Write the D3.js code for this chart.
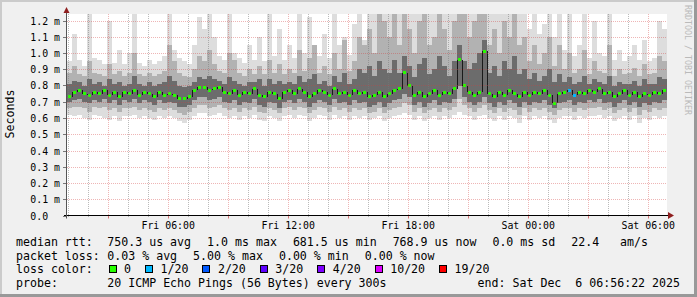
<!DOCTYPE html>
<html lang="en">
<head>
<meta charset="UTF-8">
<title>SmokePing last 30 hours</title>
<script src="https://cdn.jsdelivr.net/npm/d3@7/dist/d3.min.js"></script>
<style>
  body { margin: 0; background: #f0f0f0; }
  text { font-family: "DejaVu Sans Mono", monospace; fill: #000; white-space: pre; }
</style>
</head>
<body>
<script>
// time base: 15 minute steps, 120 of them (30 hours)
var tStart = Date.UTC(2025, 11, 5, 0, 56, 22);
var tEnd = Date.UTC(2025, 11, 6, 6, 56, 22);
var stepMs = 15 * 60 * 1000;

// values in ms
var median = [0.73,0.76,0.77,0.75,0.74,0.76,0.75,0.77,0.74,0.76,0.73,0.76,0.75,0.77,0.74,0.76,0.75,0.73,0.76,0.74,
  0.75,0.74,0.72,0.72,0.73,0.77,0.79,0.79,0.77,0.78,0.79,0.76,0.75,0.77,0.74,0.76,0.75,0.78,0.74,0.73,
  0.76,0.75,0.72,0.76,0.77,0.75,0.78,0.76,0.73,0.75,0.77,0.76,0.74,0.78,0.75,0.76,0.74,0.77,0.75,0.76,
  0.73,0.74,0.76,0.73,0.75,0.77,0.78,0.88,0.80,0.74,0.76,0.73,0.75,0.77,0.74,0.76,0.75,0.78,0.96,0.80,
  0.76,0.74,0.76,1.01,0.75,0.73,0.76,0.74,0.77,0.75,0.73,0.76,0.74,0.76,0.75,0.77,0.74,0.69,0.75,0.76,
  0.77,0.74,0.76,0.75,0.77,0.76,0.78,0.75,0.76,0.73,0.75,0.77,0.74,0.76,0.73,0.75,0.74,0.76,0.75,0.77];
var lossCount = [0,0,0,0,0,0,0,0,0,0,0,0,0,0,0,0,0,0,0,0,
  0,0,0,0,0,0,0,0,0,0,0,0,0,0,0,0,0,0,0,0,
  0,0,0,0,0,0,0,0,0,0,0,0,0,0,0,0,0,0,0,0,
  0,0,0,0,0,0,0,0,0,0,0,0,0,0,0,0,0,0,0,0,
  0,0,0,0,0,0,0,0,0,0,0,0,0,0,0,0,0,0,0,0,
  1,1,0,0,0,0,0,0,0,0,0,0,0,0,0,0,0,0,0,0];
var pingMax = [0.95,1.12,0.96,0.92,1.25,0.97,0.96,0.93,1.20,0.94,1.02,0.93,1.00,1.25,0.94,0.92,0.96,0.93,0.95,0.98,
  1.25,1.02,0.97,0.95,0.93,1.05,1.22,1.15,1.25,1.10,0.98,0.96,1.25,1.00,0.97,0.94,1.05,0.96,1.10,0.95,
  1.25,0.98,1.15,0.96,1.05,0.97,1.25,1.00,1.22,1.03,0.98,1.12,0.97,1.25,1.05,1.10,0.99,1.18,1.25,1.08,
  1.25,1.25,1.25,1.25,1.25,1.25,1.25,1.25,1.25,1.25,1.25,1.25,1.25,1.25,1.25,1.25,1.25,1.25,1.25,1.25,
  1.25,1.25,1.25,1.25,1.25,1.25,1.25,1.25,1.25,1.25,1.25,1.25,1.15,1.25,1.12,1.18,1.25,1.10,1.25,1.02,
  1.25,0.98,1.05,1.25,0.97,1.20,1.00,0.98,1.25,0.96,1.02,0.95,0.98,1.05,0.96,1.08,0.95,0.97,1.20,1.15];
var pingP90 = [0.88,0.92,0.87,0.86,0.95,0.88,0.87,0.86,0.93,0.87,0.89,0.86,0.88,1.00,0.87,0.86,0.88,0.86,0.87,0.89,
  1.05,0.95,0.88,0.86,0.85,0.90,0.98,0.95,1.02,0.93,0.89,0.88,1.00,0.96,0.88,0.86,0.90,0.87,0.92,0.87,
  0.96,0.88,0.93,0.87,0.90,0.88,1.02,0.89,0.97,1.05,0.88,0.92,0.87,1.00,0.90,1.08,0.89,0.95,1.10,1.05,
  1.15,1.00,1.25,1.20,1.10,1.25,1.05,1.25,1.15,1.00,1.20,1.25,1.05,1.10,1.25,1.15,1.02,1.20,1.25,1.25,
  1.10,1.20,1.25,1.25,1.05,1.15,1.00,1.20,1.10,1.25,1.05,1.10,0.95,1.05,0.93,1.00,1.10,0.92,1.05,0.90,
  1.00,0.88,0.90,1.02,0.87,0.95,0.89,0.88,1.05,0.86,0.90,0.87,0.88,0.91,0.86,0.93,0.87,0.88,0.98,0.95];
var pingP75 = [0.81,0.83,0.82,0.80,0.84,0.81,0.82,0.80,0.84,0.81,0.82,0.80,0.81,0.86,0.81,0.80,0.82,0.80,0.81,0.82,
  0.86,0.83,0.80,0.79,0.80,0.82,0.85,0.84,0.86,0.84,0.83,0.81,0.85,0.83,0.81,0.80,0.82,0.82,0.84,0.80,
  0.84,0.81,0.83,0.81,0.82,0.81,0.86,0.82,0.84,0.87,0.81,0.83,0.80,0.86,0.82,0.88,0.81,0.84,0.90,0.88,
  0.92,0.86,0.95,0.90,0.88,0.96,0.88,0.98,0.92,0.85,0.93,0.97,0.87,0.90,0.98,0.92,0.86,0.95,1.05,0.95,
  0.90,0.94,1.00,1.08,0.88,0.92,0.86,0.95,0.90,0.98,0.87,0.90,0.84,0.88,0.83,0.86,0.90,0.82,0.87,0.82,
  0.85,0.81,0.82,0.86,0.81,0.84,0.82,0.81,0.86,0.80,0.82,0.81,0.81,0.83,0.80,0.84,0.81,0.81,0.85,0.84];
var pingP25 = [0.70,0.71,0.72,0.70,0.69,0.71,0.70,0.72,0.69,0.71,0.68,0.71,0.70,0.72,0.69,0.71,0.70,0.68,0.71,0.69,
  0.70,0.69,0.67,0.67,0.68,0.71,0.73,0.73,0.71,0.72,0.73,0.70,0.69,0.71,0.68,0.70,0.69,0.72,0.68,0.67,
  0.70,0.69,0.66,0.70,0.71,0.69,0.72,0.70,0.67,0.69,0.71,0.70,0.68,0.72,0.69,0.70,0.68,0.71,0.69,0.70,
  0.67,0.68,0.70,0.67,0.69,0.71,0.72,0.75,0.73,0.68,0.70,0.67,0.69,0.71,0.68,0.70,0.69,0.72,0.80,0.73,
  0.70,0.68,0.70,0.73,0.69,0.67,0.70,0.68,0.71,0.69,0.67,0.70,0.68,0.70,0.69,0.71,0.68,0.66,0.69,0.70,
  0.71,0.68,0.70,0.69,0.71,0.70,0.72,0.69,0.70,0.67,0.69,0.71,0.68,0.70,0.67,0.69,0.68,0.70,0.69,0.71];
var pingP10 = [0.66,0.67,0.67,0.66,0.64,0.67,0.66,0.67,0.65,0.66,0.64,0.66,0.66,0.67,0.65,0.66,0.65,0.64,0.66,0.65,
  0.66,0.65,0.63,0.62,0.64,0.66,0.68,0.68,0.66,0.67,0.68,0.66,0.65,0.66,0.64,0.66,0.65,0.67,0.64,0.63,
  0.66,0.65,0.63,0.66,0.67,0.65,0.67,0.66,0.63,0.65,0.67,0.66,0.64,0.67,0.65,0.66,0.64,0.66,0.65,0.66,
  0.63,0.64,0.66,0.63,0.65,0.66,0.67,0.69,0.68,0.64,0.66,0.63,0.65,0.66,0.64,0.66,0.65,0.67,0.72,0.68,
  0.66,0.64,0.66,0.68,0.65,0.63,0.66,0.64,0.66,0.65,0.62,0.66,0.64,0.66,0.65,0.66,0.64,0.62,0.65,0.66,
  0.66,0.64,0.66,0.65,0.66,0.66,0.67,0.65,0.66,0.63,0.65,0.66,0.64,0.66,0.62,0.65,0.64,0.66,0.65,0.66];
var pingMin = [0.62,0.61,0.62,0.60,0.59,0.62,0.61,0.60,0.59,0.61,0.58,0.61,0.61,0.62,0.60,0.61,0.60,0.59,0.61,0.60,
  0.61,0.60,0.58,0.57,0.59,0.61,0.63,0.63,0.61,0.62,0.63,0.61,0.60,0.61,0.59,0.61,0.60,0.62,0.59,0.58,
  0.61,0.60,0.58,0.61,0.62,0.60,0.62,0.61,0.58,0.60,0.62,0.61,0.59,0.62,0.60,0.61,0.59,0.61,0.60,0.61,
  0.59,0.60,0.61,0.58,0.60,0.61,0.62,0.63,0.62,0.59,0.61,0.58,0.60,0.61,0.59,0.61,0.60,0.62,0.64,0.62,
  0.61,0.59,0.61,0.62,0.60,0.58,0.61,0.59,0.61,0.60,0.57,0.61,0.59,0.61,0.60,0.61,0.59,0.57,0.60,0.61,
  0.61,0.59,0.61,0.60,0.61,0.61,0.62,0.60,0.61,0.58,0.60,0.61,0.59,0.61,0.57,0.60,0.59,0.61,0.60,0.61];

var lossLevels = [0, 1, 2, 3, 4, 10, 19];
var lossLabels = ['0', '1/20', '2/20', '3/20', '4/20', '10/20', '19/20'];
var lossColors = ['#26ff00', '#00b8ff', '#0059ff', '#5e00ff', '#7e00ff', '#dd00ff', '#ff0000'];

var rttStats = ['750.3 us avg', '1.0 ms max', '681.5 us min', '768.9 us now', '0.0 ms sd', '22.4   am/s'];
var lossStats = ['0.03 % avg', '5.00 % max', '0.00 % min', '0.00 % now'];
var probeText = '20 ICMP Echo Pings (56 Bytes) every 300s';
var endText = 'end: Sat Dec  6 06:56:22 2025';

var W = 697, H = 297;
var plotL = 67, plotR = 667, plotT = 14, plotB = 215.5;

var svg = d3.select('body').append('svg').attr('width', W).attr('height', H);
svg.append('rect').attr('width', W).attr('height', H).attr('fill', '#f0f0f0');
// frame shading
svg.append('rect').attr('x', 0).attr('y', 0).attr('width', W).attr('height', 2).attr('fill', '#cbcbcb');
svg.append('rect').attr('x', 0).attr('y', 0).attr('width', 2).attr('height', H).attr('fill', '#cbcbcb');
svg.append('rect').attr('x', W - 3).attr('y', 0).attr('width', 3).attr('height', H).attr('fill', '#999');
svg.append('rect').attr('x', 0).attr('y', H - 3).attr('width', W).attr('height', 3).attr('fill', '#999');

svg.append('rect').attr('x', plotL).attr('y', plotT).attr('width', plotR - plotL).attr('height', plotB - plotT)
  .attr('fill', '#fff');

var x = d3.scaleUtc().domain([tStart, tEnd]).range([plotL, plotR]);
var y = d3.scaleLinear().domain([0, 1.24]).range([plotB, plotT]);

svg.append('clipPath').attr('id', 'plot').append('rect')
  .attr('x', plotL).attr('y', plotT).attr('width', plotR - plotL).attr('height', plotB - plotT);

var g = svg.append('g').attr('clip-path', 'url(#plot)').attr('shape-rendering', 'crispEdges');
var idx = d3.range(median.length);
function x0(i) { return x(tStart + i * stepMs); }
function x1(i) { return x(tStart + (i + 1) * stepMs); }

var layers = [
  {lo: pingMin, hi: pingMax, color: '#dddddd'},
  {lo: pingP10, hi: pingP90, color: '#b2b2b2'},
  {lo: pingP25, hi: pingP75, color: '#6c6c6c'}
];
layers.forEach(function(L) {
  g.append('g').selectAll('rect').data(idx).join('rect')
    .attr('x', i => x0(i)).attr('width', i => x1(i) - x0(i))
    .attr('y', i => y(L.hi[i])).attr('height', i => y(L.lo[i]) - y(L.hi[i]))
    .attr('fill', L.color);
});

// dark connectors between medians
g.append('g').selectAll('line').data(idx.slice(1)).join('line')
  .attr('x1', i => Math.round(x0(i)) + 0.5).attr('x2', i => Math.round(x0(i)) + 0.5)
  .attr('y1', i => y(median[i - 1])).attr('y2', i => y(median[i]))
  .attr('stroke', '#1a1a1a').attr('stroke-width', 1.5);

function lossColor(n) {
  var c = lossColors[0];
  lossLevels.forEach((l, k) => { if (n >= l) c = lossColors[k]; });
  return c;
}
g.append('g').selectAll('rect').data(idx).join('rect')
  .attr('x', i => x0(i) + 1).attr('width', 3)
  .attr('y', i => y(median[i]) - 1.5).attr('height', 3)
  .attr('fill', i => lossColor(lossCount[i]));

// grid on top: hourly minor (grey), 3-hourly major (red)
var grid = svg.append('g');
var hourTicks = d3.utcHour.range(new Date(tStart), new Date(tEnd));
var minorTicks = hourTicks.filter(t => t.getUTCHours() % 3 !== 0);
var majorTicks = hourTicks.filter(t => t.getUTCHours() % 3 === 0);
grid.selectAll('line.minor').data(minorTicks).join('line').attr('class', 'minor')
  .attr('x1', t => Math.round(x(t)) + 0.5).attr('x2', t => Math.round(x(t)) + 0.5)
  .attr('y1', plotT).attr('y2', plotB + 2)
  .attr('stroke', 'rgba(120,120,120,0.5)').attr('stroke-dasharray', '1,1');
grid.selectAll('line.major').data(majorTicks).join('line').attr('class', 'major')
  .attr('x1', t => Math.round(x(t)) + 0.5).attr('x2', t => Math.round(x(t)) + 0.5)
  .attr('y1', plotT).attr('y2', plotB)
  .attr('stroke', 'rgba(210,60,60,0.38)').attr('stroke-dasharray', '1,1');
grid.selectAll('line.majortick').data(majorTicks).join('line').attr('class', 'majortick')
  .attr('x1', t => Math.round(x(t)) + 0.5).attr('x2', t => Math.round(x(t)) + 0.5)
  .attr('y1', plotB).attr('y2', plotB + 3)
  .attr('stroke', 'rgba(200,40,40,0.6)');

y.ticks(12).forEach(function(v) {
  var py = Math.round(y(v)) + 0.5;
  if (v > 0) {
    grid.append('line').attr('x1', plotL).attr('x2', plotR).attr('y1', py).attr('y2', py)
      .attr('stroke', 'rgba(210,60,60,0.38)').attr('stroke-dasharray', '1,1');
  }
  grid.append('line').attr('x1', plotL - 4).attr('x2', plotL).attr('y1', py).attr('y2', py)
    .attr('stroke', '#777');
  svg.append('text').attr('x', 60).attr('y', py + 3.5).attr('text-anchor', 'end')
    .style('font-size', '9.9px')
    .text(v === 0 ? '0.0  ' : d3.format('.1f')(v) + ' m');
});

// time labels
var fmt = d3.utcFormat('%a %H:%M');
x.ticks(d3.utcHour.every(6)).forEach(function(t) {
  svg.append('text').attr('x', x(t)).attr('y', 228.5).attr('text-anchor', 'middle')
    .style('font-size', '9.9px').text(fmt(t));
});

// axes
svg.append('line').attr('x1', plotL - 3).attr('x2', plotR + 3).attr('y1', plotB).attr('y2', plotB)
  .attr('stroke', '#000');
svg.append('line').attr('x1', plotL - 0.5).attr('x2', plotL - 0.5).attr('y1', plotB + 3).attr('y2', plotT - 1)
  .attr('stroke', '#555');
svg.append('path').attr('d', 'M668,212 L674,215.5 L668,219 Z').attr('fill', '#8f1f1f');
svg.append('path').attr('d', 'M63.5,13 L69.5,13 L66.5,7 Z').attr('fill', '#8f1f1f');

// y title
svg.append('text').attr('transform', 'translate(14,114) rotate(-90)').attr('text-anchor', 'middle')
  .style('font-size', '11.6px').text('Seconds');

// watermark
svg.append('text').attr('transform', 'translate(685,5) rotate(90)').style('font-size', '8.3px')
  .style('fill', '#bababa').text('RRDTOOL / TOBI OETIKER');

// legend
var legendSize = '11.6px', tabX = 107.3;
function legendRow(yb, label, pieces) {
  svg.append('text').attr('x', 16).attr('y', yb).style('font-size', legendSize).text(label);
  var xx = tabX;
  pieces.forEach(function(p) {
    var t = svg.append('text').attr('x', xx).attr('y', yb).style('font-size', legendSize).text(p);
    xx += t.node().getComputedTextLength() + 16;
  });
}
legendRow(245.5, 'median rtt:', rttStats);
legendRow(259.5, 'packet loss:', lossStats);
svg.append('text').attr('x', 16).attr('y', 273.3).style('font-size', legendSize).text('loss color:');
var bx = 108.5;
lossLabels.forEach(function(lab, k) {
  svg.append('rect').attr('x', bx + 0.5).attr('y', 265.5).attr('width', 7).attr('height', 7)
    .attr('fill', lossColors[k]).attr('stroke', '#000').attr('shape-rendering', 'crispEdges');
  var t = svg.append('text').attr('x', bx + 15.5).attr('y', 273.3).style('font-size', legendSize).text(lab);
  bx = bx + 15.5 + t.node().getComputedTextLength() + 14;
});
svg.append('text').attr('x', 16).attr('y', 287.2).style('font-size', legendSize).text('probe:');
svg.append('text').attr('x', tabX).attr('y', 287.2).style('font-size', legendSize).text(probeText);
svg.append('text').attr('x', 680).attr('y', 287.2).attr('text-anchor', 'end').style('font-size', legendSize).text(endText);
</script>
</body>
</html>
